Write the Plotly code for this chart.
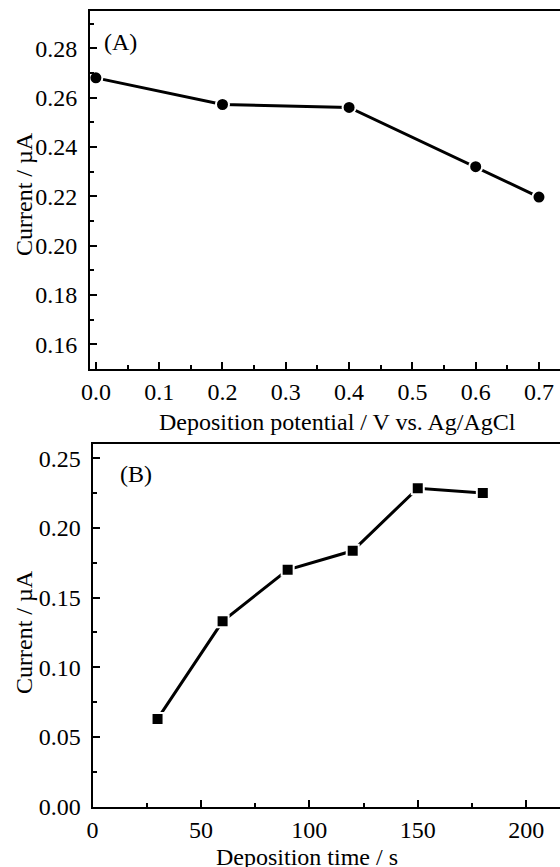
import plotly.graph_objects as go

# Panel A data
potential = [0.0, 0.2, 0.4, 0.6, 0.7]
current_a = [0.268, 0.2572, 0.256, 0.232, 0.2197]
# Panel B data
dep_time = [30, 60, 90, 120, 150, 180]
current_b = [0.063, 0.133, 0.170, 0.1836, 0.2285, 0.225]

xa_ticks = [0.0, 0.1, 0.2, 0.3, 0.4, 0.5, 0.6, 0.7]
ya_ticks = [0.16, 0.18, 0.20, 0.22, 0.24, 0.26, 0.28]
xb_ticks = [0, 50, 100, 150, 200]
yb_ticks = [0.00, 0.05, 0.10, 0.15, 0.20, 0.25]

W, H = 560, 867
FONT = "Liberation Serif"
FS = 24

fig = go.Figure()
fig.add_trace(go.Scatter(x=potential, y=current_a, mode="lines+markers",
                         line=dict(color="black", width=3),
                         marker=dict(symbol="circle", size=13, color="black",
                                     line=dict(color="white", width=2)),
                         xaxis="x", yaxis="y", showlegend=False))
fig.add_trace(go.Scatter(x=dep_time, y=current_b, mode="lines+markers",
                         line=dict(color="black", width=3),
                         marker=dict(symbol="square", size=12, color="black",
                                     line=dict(color="white", width=2)),
                         xaxis="x2", yaxis="y2", showlegend=False))

TF = dict(family=FONT, size=FS, color="black")

def ax(**kw):
    base = dict(showline=True, linecolor="black", linewidth=2,
                ticks="inside", ticklen=7, tickwidth=2, tickcolor="black",
                showgrid=False, zeroline=False, tickfont=TF)
    base.update(kw)
    return base

fig.update_layout(
    template="none",
    width=W, height=H,
    margin=dict(l=0, r=0, t=0, b=0),
    font=dict(family=FONT, size=FS, color="black"),
    paper_bgcolor="white", plot_bgcolor="white",
    xaxis=ax(domain=[90 / W, 1], range=[-0.0093, 0.7332], anchor="y",
             tickmode="array", tickvals=xa_ticks,
             ticktext=[f"{v:.1f}" for v in xa_ticks], mirror=True,
             minor=dict(ticks="inside", ticklen=4, tickwidth=1.5, dtick=0.05, tick0=0, tickcolor="black")),
    yaxis=ax(domain=[1 - 369 / H, 1 - 11 / H], range=[0.15, 0.2951], anchor="x",
             tickmode="array", tickvals=ya_ticks,
             ticktext=[f"{v:.2f}" for v in ya_ticks], ticklabelstandoff=6,
             minor=dict(ticks="inside", ticklen=4, tickwidth=1.5, dtick=0.01, tick0=0, tickcolor="black")),
    xaxis2=ax(domain=[92.5 / W, 1], range=[0, 215.6], anchor="y2",
              tickmode="array", tickvals=xb_ticks,
              ticktext=[str(v) for v in xb_ticks], mirror=True,
              minor=dict(ticks="inside", ticklen=4, tickwidth=1.5, dtick=25, tick0=0, tickcolor="black")),
    yaxis2=ax(domain=[1 - 806.7 / H, 1 - 444.3 / H], range=[0.0, 0.26], anchor="x2",
              tickmode="array", tickvals=yb_ticks,
              ticktext=[f"{v:.2f}" for v in yb_ticks], ticklabelstandoff=5,
              minor=dict(ticks="inside", ticklen=4, tickwidth=1.5, dtick=0.025, tick0=0, tickcolor="black")),
)

def label(text, x, y, rot=0):
    fig.add_annotation(text=text, x=x / W, y=1 - y / H, xref="paper", yref="paper",
                       showarrow=False, textangle=rot, xanchor="center", yanchor="middle",
                       font=dict(family=FONT, size=FS, color="black"))

label("(A)", 120, 42)
label("(B)", 136, 474)
label("Deposition potential / V vs. Ag/AgCl", 337, 422)
label("Deposition time / s", 307, 857)
label("Current / µA", 24, 194, rot=-90)
label("Current / µA", 24, 632, rot=-90)

fig.write_html("out.html")
